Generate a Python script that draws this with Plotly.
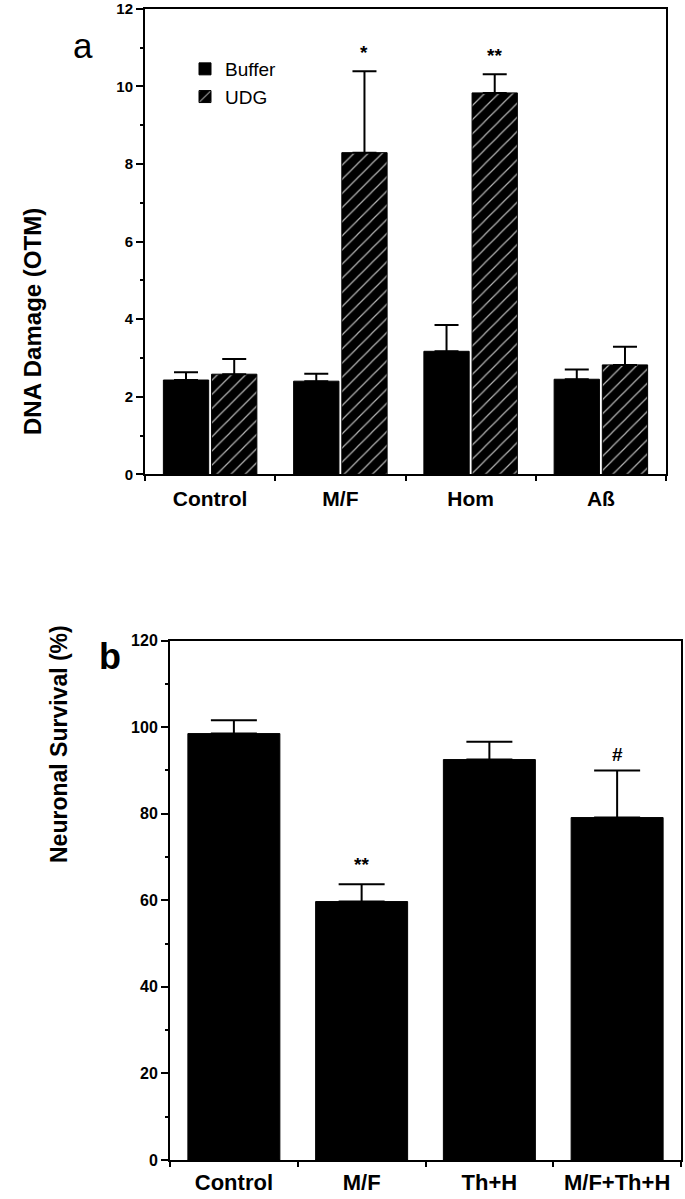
import plotly.graph_objects as go

# ---------------- data ----------------
cats_a = ["Control", "M/F", "Hom", "Aß"]
buffer_vals = [2.43, 2.40, 3.17, 2.45]
buffer_err = [0.20, 0.19, 0.68, 0.25]
udg_vals = [2.58, 8.29, 9.83, 2.82]
udg_err = [0.39, 2.10, 0.48, 0.47]
sig_a = ["", "*", "**", ""]

cats_b = ["Control", "M/F", "Th+H", "M/F+Th+H"]
surv_vals = [98.5, 59.7, 92.5, 79.1]
surv_err = [3.1, 4.0, 4.1, 10.9]
sig_b = ["", "**", "", "#"]

yticks_a = [0, 2, 4, 6, 8, 10, 12]
yticks_b = [0, 20, 40, 60, 80, 100, 120]

# ---------------- layout helpers ----------------
W, H = 685, 1199
def px_x(p):
    return p / W
def px_y(p):
    return 1 - p / H

FONT = "Liberation Sans, Arial, sans-serif"

fig = go.Figure()

fig.add_trace(go.Bar(
    x=cats_a, y=buffer_vals, name="Buffer", xaxis="x", yaxis="y",
    marker=dict(color="black", line=dict(color="black", width=1)),
    error_y=dict(type="data", symmetric=False, array=buffer_err,
                 arrayminus=[0] * len(buffer_err), color="black",
                 thickness=2, width=12),
))
fig.add_trace(go.Bar(
    x=cats_a, y=udg_vals, name="UDG", xaxis="x", yaxis="y",
    marker=dict(color="black", line=dict(color="black", width=1),
                pattern=dict(shape="/", fillmode="replace", bgcolor="black",
                             fgcolor="white", fgopacity=0.7, size=10,
                             solidity=0.12)),
    error_y=dict(type="data", symmetric=False, array=udg_err,
                 arrayminus=[0] * len(udg_err), color="black",
                 thickness=2, width=12),
))
fig.add_trace(go.Bar(
    x=cats_b, y=surv_vals, name="Survival", xaxis="x2", yaxis="y2",
    showlegend=False, width=0.72,
    marker=dict(color="black", line=dict(color="black", width=1)),
    error_y=dict(type="data", symmetric=False, array=surv_err,
                 arrayminus=[0] * len(surv_err), color="black",
                 thickness=2, width=23),
))

annotations = []
for c, v, e, s in zip(cats_a, udg_vals, udg_err, sig_a):
    if s:
        annotations.append(dict(x=c, y=v + e, xref="x", yref="y", text=s,
                                showarrow=False, xshift=24, yanchor="bottom",
                                yshift=6,
                                font=dict(family=FONT, size=19, color="black",
                                          weight="bold")))
for c, v, e, s in zip(cats_b, surv_vals, surv_err, sig_b):
    if s:
        annotations.append(dict(x=c, y=v + e, xref="x2", yref="y2", text=s,
                                showarrow=False, yanchor="bottom",
                                yshift=7 if s != "#" else 3,
                                font=dict(family=FONT, size=19, color="black",
                                          weight="bold")))

# panel labels
annotations.append(dict(x=px_x(71), y=px_y(24), xref="paper", yref="paper",
                        text="a", showarrow=False,
                        font=dict(family=FONT, size=35, color="black")))
annotations.append(dict(x=px_x(97), y=px_y(656), xref="paper", yref="paper",
                        text="b", showarrow=False,
                        font=dict(family=FONT, size=36, color="black",
                                  weight="bold")))
# y axis titles
annotations.append(dict(x=px_x(17), y=px_y(206), xref="paper", yref="paper",
                        text="DNA Damage (OTM)", showarrow=False, textangle=-90,
                        font=dict(family=FONT, size=24, color="black",
                                  weight="bold")))
annotations.append(dict(x=px_x(44), y=px_y(865), xref="paper", yref="paper",
                        text="Neuronal Survival (%)", showarrow=False,
                        textangle=-90,
                        font=dict(family=FONT, size=23, color="black",
                                  weight="bold")))

axis_common = dict(showline=True, linecolor="black", linewidth=2, mirror=True,
                   showgrid=False, zeroline=False, ticks="outside",
                   tickcolor="black", tickwidth=2, automargin=False,
                   ticklabeloverflow="allow")

fig.update_layout(
    width=W, height=H,
    margin=dict(l=0, r=0, t=0, b=0),
    paper_bgcolor="white", plot_bgcolor="white",
    barmode="group", bargap=0.26, bargroupgap=0.06,
    showlegend=True,
    legend=dict(x=px_x(185), y=px_y(50), xanchor="left", yanchor="top",
                bgcolor="rgba(0,0,0,0)", tracegroupgap=0,
                font=dict(family=FONT, size=19, color="black")),
    xaxis=dict(axis_common, domain=[px_x(145), px_x(666)], anchor="y",
               type="category", range=[-0.5, 3.5], tickson="boundaries",
               ticklen=5, ticklabelstandoff=4, tickangle=0,
               tickfont=dict(family=FONT, size=21, color="black",
                             weight="bold")),
    yaxis=dict(axis_common, domain=[px_y(474.3), px_y(8.7)], anchor="x",
               range=[0, 12], tickvals=yticks_a, ticklen=7,
               minor=dict(dtick=1, ticks="outside", ticklen=3,
                          tickcolor="black", tickwidth=2),
               tickfont=dict(family=FONT, size=15, color="black",
                             weight="bold")),
    xaxis2=dict(axis_common, domain=[px_x(170), px_x(681)], anchor="y2",
                type="category", range=[-0.5, 3.5], tickson="boundaries",
                ticklen=5, ticklabelstandoff=2, tickangle=0,
                tickfont=dict(family=FONT, size=22, color="black",
                              weight="bold")),
    yaxis2=dict(axis_common, domain=[px_y(1160), px_y(640.5)], anchor="x2",
                range=[0, 120], tickvals=yticks_b, ticklen=7,
                minor=dict(dtick=10, ticks="outside", ticklen=3,
                           tickcolor="black", tickwidth=2),
                tickfont=dict(family=FONT, size=16, color="black",
                              weight="bold")),
    annotations=annotations,
)

fig.write_html("out.html",
               config={"displayModeBar": False},
               post_script="document.body.style.margin='0';"
                           "document.body.style.overflow='hidden';")
